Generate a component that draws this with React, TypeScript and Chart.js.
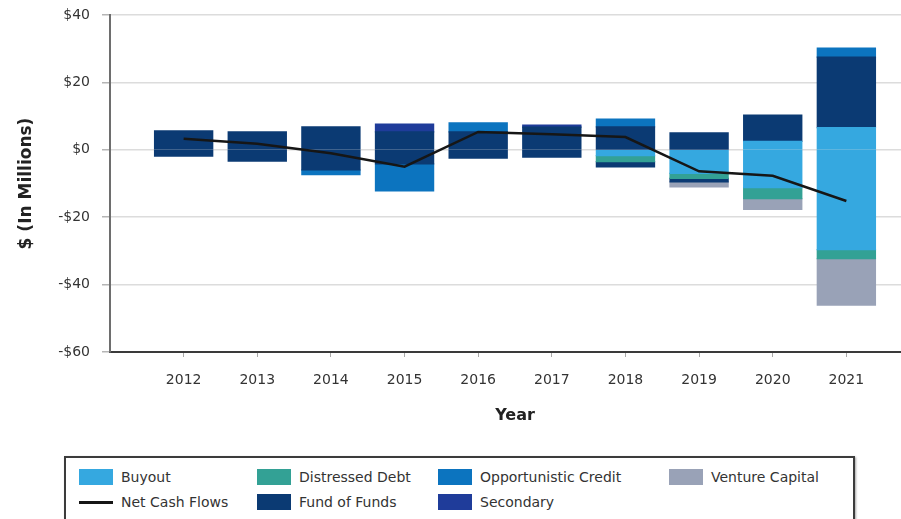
import React, { useEffect, useRef } from 'react';
import { Chart, registerables } from 'chart.js';

Chart.register(...registerables);

// ---- Data (in $ millions) ----
const years = [2012, 2013, 2014, 2015, 2016, 2017, 2018, 2019, 2020, 2021];

const buyoutDistributions = [0, 0, 0, 0, 0, 0, 0, 0, 2.5, 6.6];
const buyoutContributions = [0, 0, 0, 0, 0, 0, -1.7, -7.0, -11.2, -29.6];
const distressedContributions = [0, 0, 0, 0, 0, 0, -1.8, -1.5, -3.3, -2.7];
const fundOfFundsDistributions = [5.6, 5.3, 6.8, 5.3, 5.3, 6.7, 6.8, 5.0, 7.8, 20.9];
const fundOfFundsContributions = [-1.9, -3.4, -6.0, -4.2, -2.5, -2.2, -1.6, -1.0, 0, 0];
const oppCreditDistributions = [0, 0, 0, 0, 2.7, 0, 2.3, 0, 0, 2.7];
const oppCreditContributions = [0, 0, -1.4, -8.0, 0, 0, 0, 0, 0, 0];
const secondaryDistributions = [0, 0, 0, 2.3, 0, 0.6, 0, 0, 0, 0];
const ventureContributions = [0, 0, 0, 0, 0, 0, 0, -1.5, -3.2, -13.8];
const netCashFlows = [3.3, 1.8, -1.0, -5.0, 5.3, 4.6, 3.8, -6.4, -7.7, -15.2];

const yMin = -60;
const yMax = 40;
const yStep = 20;
const xMin = 2011;
const xMax = 2022;

const COLORS = {
  buyout: '#35a8e0',
  distressed: '#33a195',
  opp: '#0c74bf',
  venture: '#99a2b7',
  net: '#161616',
  fof: '#0b3a73',
  secondary: '#1f3c9a',
};

const legendRows = [
  [
    { label: 'Buyout', color: COLORS.buyout, kind: 'box' },
    { label: 'Distressed Debt', color: COLORS.distressed, kind: 'box' },
    { label: 'Opportunistic Credit', color: COLORS.opp, kind: 'box' },
    { label: 'Venture Capital', color: COLORS.venture, kind: 'box' },
  ],
  [
    { label: 'Net Cash Flows', color: COLORS.net, kind: 'line' },
    { label: 'Fund of Funds', color: COLORS.fof, kind: 'box' },
    { label: 'Secondary', color: COLORS.secondary, kind: 'box' },
  ],
];

const FONT = '"DejaVu Sans", "Open Sans", sans-serif';

export default function App() {
  const canvasRef = useRef<HTMLCanvasElement | null>(null);

  useEffect(() => {
    document.body.style.margin = '0';
    const canvas = canvasRef.current;
    if (!canvas) return;
    Chart.defaults.font.family = FONT;

    const bar = (label: string, data: number[], color: string) => ({
      type: 'bar' as const,
      label,
      // empty (zero) segments are left out so they draw nothing
      data: data.map((v) => (v === 0 ? null : v)),
      backgroundColor: color,
      borderWidth: 0,
      inflateAmount: 0.6,
      stack: 'flows',
      order: 1,
      barPercentage: 0.79,
      categoryPercentage: 1,
    });

    const chart = new Chart(canvas, {
      type: 'bar',
      data: {
        labels: years,
        datasets: [
          {
            type: 'line',
            label: 'Net Cash Flows',
            data: netCashFlows,
            borderColor: COLORS.net,
            backgroundColor: COLORS.net,
            borderWidth: 2.5,
            pointRadius: 0,
            tension: 0,
            fill: false,
            stack: 'net',
            order: 0,
          } as any,
          bar('Buyout', buyoutDistributions, COLORS.buyout),
          bar('Buyout', buyoutContributions, COLORS.buyout),
          bar('Distressed Debt', distressedContributions, COLORS.distressed),
          bar('Fund of Funds', fundOfFundsDistributions, COLORS.fof),
          bar('Fund of Funds', fundOfFundsContributions, COLORS.fof),
          bar('Opportunistic Credit', oppCreditDistributions, COLORS.opp),
          bar('Opportunistic Credit', oppCreditContributions, COLORS.opp),
          bar('Secondary', secondaryDistributions, COLORS.secondary),
          bar('Venture Capital', ventureContributions, COLORS.venture),
        ],
      },
      options: {
        responsive: false,
        animation: false,
        layout: { padding: { top: 15, left: 0, right: 0, bottom: 0 } },
        plugins: {
          legend: { display: false },
          tooltip: { enabled: false },
        },
        scales: {
          x: {
            type: 'linear',
            min: xMin,
            max: xMax,
            offset: false,
            stacked: true,
            afterBuildTicks: (scale: any) => {
              scale.ticks = years.map((v) => ({ value: v }));
            },
            grid: {
              offset: false,
              drawOnChartArea: false,
              drawTicks: true,
              tickLength: 5,
              color: '#a8a8a8',
            },
            border: { display: true, color: '#3a3a3a', width: 2 },
            ticks: {
              autoSkip: false,
              maxRotation: 0,
              padding: 15,
              color: '#333',
              font: { size: 14 },
              callback: (v: any) => String(v),
            },
            title: {
              display: true,
              text: 'Year',
              color: '#222',
              font: { size: 16, weight: 'bold' },
              padding: { top: 2.6, bottom: 9.4 },
            },
          },
          y: {
            type: 'linear',
            min: yMin,
            max: yMax,
            stacked: true,
            afterFit: (scale: any) => {
              scale.width = 110;
              scale.paddingTop = 0;
              scale.paddingBottom = 0;
            },
            ticks: {
              stepSize: yStep,
              padding: 12,
              color: '#333',
              font: { size: 14 },
              callback: (v: any) => (Number(v) < 0 ? '-$' : '$') + Math.abs(Number(v)),
            },
            grid: {
              color: '#dcdcdc',
              lineWidth: 1.5,
              tickLength: 8,
              tickColor: '#b5b5b5',
            },
            border: { display: true, color: '#6e6e6e', width: 2 },
            title: {
              display: true,
              text: '$ (In Millions)',
              color: '#222',
              font: { size: 17, weight: 'bold' },
              padding: { top: 16.8, bottom: 4 },
            },
          },
        },
      } as any,
    });

    return () => chart.destroy();
  }, []);

  const colX = [13, 191, 372, 603];
  const rowY = [19, 44];

  return (
    <div
      style={{
        position: 'fixed',
        left: 0,
        top: 0,
        width: 901,
        height: 519,
        overflow: 'hidden',
        background: '#fff',
        fontFamily: FONT,
      }}
    >
      <canvas
        ref={canvasRef}
        width={920}
        height={435}
        style={{ position: 'absolute', left: 0, top: 0, width: 920, height: 435 }}
      />
      <div
        style={{
          position: 'absolute',
          left: 64,
          top: 456,
          width: 791,
          height: 90,
          border: '2px solid #3c3c3c',
          boxSizing: 'border-box',
          boxShadow: '1px 1px 2px rgba(0,0,0,0.35)',
          background: '#fff',
        }}
      >
        {legendRows.map((row, r) =>
          row.map((item, c) => (
            <div key={item.label}>
              {item.kind === 'box' ? (
                <div
                  style={{
                    position: 'absolute',
                    left: colX[c],
                    top: rowY[r] - 8,
                    width: 34,
                    height: 16,
                    background: item.color,
                  }}
                />
              ) : (
                <div
                  style={{
                    position: 'absolute',
                    left: colX[c],
                    top: rowY[r] - 1,
                    width: 34,
                    height: 2.5,
                    background: item.color,
                  }}
                />
              )}
              <div
                style={{
                  position: 'absolute',
                  left: colX[c] + 42,
                  top: rowY[r] - 10,
                  height: 20,
                  lineHeight: '20px',
                  fontSize: 14,
                  color: '#333',
                  whiteSpace: 'nowrap',
                }}
              >
                {item.label}
              </div>
            </div>
          ))
        )}
      </div>
    </div>
  );
}
